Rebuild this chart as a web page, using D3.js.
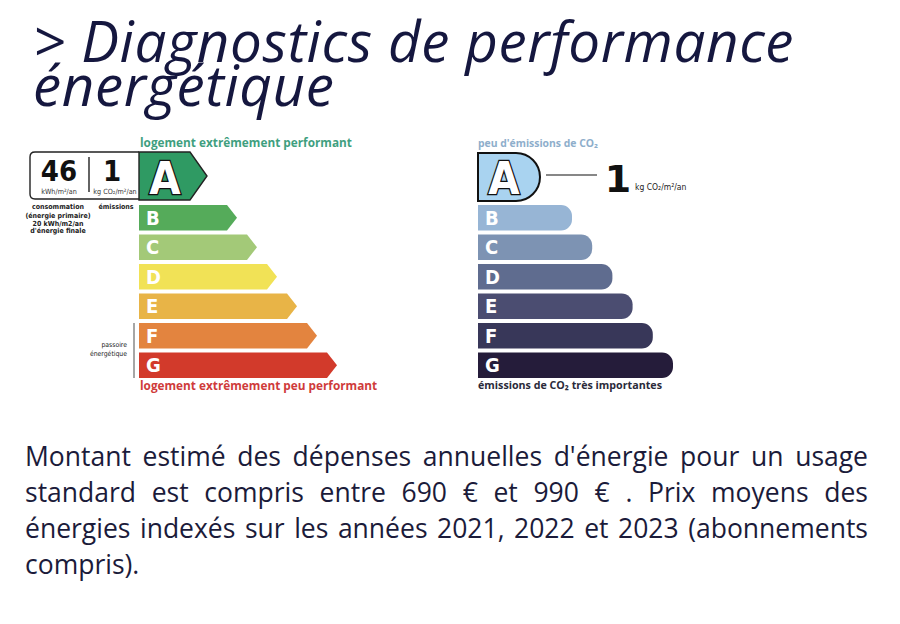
<!DOCTYPE html>
<html>
<head>
<meta charset="utf-8">
<script src="https://cdn.jsdelivr.net/npm/d3@7"></script>
<style>
  body { margin: 0; background: #fff; }
  text { font-family: "Open Sans", sans-serif; }
  .cond { font-family: "DejaVu Sans Condensed", "DejaVu Sans", sans-serif; }
</style>
</head>
<body>
<svg id="chart" width="900" height="624"></svg>
<script>
// data
const classes = ["A", "B", "C", "D", "E", "F", "G"];
const dpeColors = ["#2f9a63", "#55ab5a", "#a3c978", "#f1e256", "#e8b447", "#e3843f", "#d23a2b"];
const gesColors = ["#a9d3f0", "#97b5d5", "#7d93b3", "#5f6c8f", "#4b4d71", "#383759", "#251c3a"];
const dpeClass = "A";
const gesClass = "A";
const consumption = 46;      // kWh/m²/an énergie primaire
const emissions = 1;         // kg CO2/m²/an
const finalEnergy = 20;      // kWh/m2/an énergie finale
const costRange = [690, 990];
const priceYears = [2021, 2022, 2023];
const passoire = ["F", "G"];

const svg = d3.select("#chart");

// title
const title = svg.append("text")
  .attr("x", 33).attr("y", 62)
  .style("font-style", "italic")
  .style("font-size", "56.5px")
  .style("letter-spacing", "0.6px")
  .attr("fill", "#15173f");
title.append("tspan").text("> Diagnostics de performance");
title.append("tspan").attr("x", 33).attr("dy", 44).text("énergétique");

// scales shared by both labels
const rows = classes.slice(1);
const y = d3.scaleBand().domain(rows).range([205, 378]).paddingInner(0.14);
const dpeLen = d3.scaleLinear().domain([1, 6]).range([98, 198]);
const gesLen = d3.scaleLinear().domain([1, 6]).range([94, 195]);

function arrow(w, h, d) {
  return `M0,0H${w - d}L${w},${h / 2}L${w - d},${h}H0Z`;
}
function pill(w, h, r) {
  return `M0,0H${w - r}A${r},${r} 0 0 1 ${w},${r}V${h - r}A${r},${r} 0 0 1 ${w - r},${h}H0Z`;
}

// ---------- DPE (energy) ----------
const dpe = svg.append("g");
const x0 = 139;

dpe.append("text")
  .attr("x", 140).attr("y", 147)
  .style("font-weight", "bold").style("font-size", "11.8px")
  .attr("fill", "#3f9f7f")
  .text("logement extrêmement performant");

// box with the values
dpe.append("path")
  .attr("d", `M${x0},152H35Q30,152 30,157V194Q30,199 35,199H${x0}`)
  .attr("fill", "#fff").attr("stroke", "#222").attr("stroke-width", 1.4);
dpe.append("line")
  .attr("x1", 89).attr("x2", 89).attr("y1", 157).attr("y2", 192)
  .attr("stroke", "#222").attr("stroke-width", 1.4);

dpe.append("text").attr("class", "cond")
  .attr("x", 59).attr("y", 181).attr("text-anchor", "middle")
  .style("font-weight", "bold").style("font-size", "29px").attr("fill", "#111")
  .text(consumption);
dpe.append("text").attr("class", "cond")
  .attr("x", 112).attr("y", 181).attr("text-anchor", "middle")
  .style("font-weight", "bold").style("font-size", "29px").attr("fill", "#111")
  .text(emissions);
dpe.append("text").attr("class", "cond")
  .attr("x", 59).attr("y", 194).attr("text-anchor", "middle")
  .style("font-size", "7.2px").attr("fill", "#333")
  .text("kWh/m²/an");
dpe.append("text").attr("class", "cond")
  .attr("x", 115).attr("y", 194).attr("text-anchor", "middle")
  .style("font-size", "7.2px").attr("fill", "#333")
  .text("kg CO₂/m²/an");

const under = [
  ["consommation", 58, 209],
  ["(énergie primaire)", 58, 217.5],
  [finalEnergy + " kWh/m2/an", 58, 225.5],
  ["d'énergie finale", 58, 232.5],
  ["émissions", 116, 209]
];
dpe.selectAll("text.under").data(under).join("text")
  .attr("class", "under cond")
  .attr("x", d => d[1]).attr("y", d => d[2]).attr("text-anchor", "middle")
  .style("font-weight", "bold").style("font-size", "7px").attr("fill", "#222")
  .text(d => d[0]);

// active class arrow
const dpeIdx = classes.indexOf(dpeClass);
dpe.append("path")
  .attr("transform", `translate(${x0},152)`)
  .attr("d", arrow(68, 48, 17))
  .attr("fill", dpeColors[dpeIdx]).attr("stroke", "#222").attr("stroke-width", 1.4);
dpe.append("text").attr("class", "cond")
  .attr("x", 165).attr("y", 194).attr("text-anchor", "middle")
  .style("font-weight", "bold").style("font-size", "45px")
  .attr("fill", "#fff").attr("stroke", "#111").attr("stroke-width", 2.5)
  .attr("paint-order", "stroke")
  .text(dpeClass);

// other classes
const dpeRows = dpe.selectAll("g.row").data(rows).join("g")
  .attr("class", "row")
  .attr("transform", d => `translate(${x0},${y(d)})`);
dpeRows.append("path")
  .attr("d", d => arrow(dpeLen(classes.indexOf(d)), y.bandwidth(), 10))
  .attr("fill", d => dpeColors[classes.indexOf(d)]);
dpeRows.append("text").attr("class", "cond")
  .attr("x", 7).attr("y", y.bandwidth() / 2 + 7)
  .style("font-weight", "bold").style("font-size", "20px").attr("fill", "#fff")
  .text(d => d);

// passoire énergétique
dpe.append("line")
  .attr("x1", 134).attr("x2", 134)
  .attr("y1", y(passoire[0])).attr("y2", y(passoire[1]) + y.bandwidth())
  .attr("stroke", "#888").attr("stroke-width", 1.5);
dpe.append("text").attr("class", "cond")
  .attr("x", 127).attr("y", 347).attr("text-anchor", "end")
  .style("font-size", "6.8px").attr("fill", "#222").text("passoire");
dpe.append("text").attr("class", "cond")
  .attr("x", 127).attr("y", 356).attr("text-anchor", "end")
  .style("font-size", "6.8px").attr("fill", "#222").text("énergétique");

dpe.append("text")
  .attr("x", 140).attr("y", 390)
  .style("font-weight", "bold").style("font-size", "11.8px")
  .attr("fill", "#cf3b3b")
  .text("logement extrêmement peu performant");

// ---------- GES (emissions) ----------
const ges = svg.append("g");
const x1 = 478;

ges.append("text")
  .attr("x", x1).attr("y", 147)
  .style("font-weight", "bold").style("font-size", "10.4px")
  .attr("fill", "#8eaecb")
  .text("peu d'émissions de CO₂");

const gesIdx = classes.indexOf(gesClass);
ges.append("path")
  .attr("transform", `translate(${x1},153)`)
  .attr("d", pill(62, 48, 24))
  .attr("fill", gesColors[gesIdx]).attr("stroke", "#111").attr("stroke-width", 2);
ges.append("text").attr("class", "cond")
  .attr("x", 504).attr("y", 194).attr("text-anchor", "middle")
  .style("font-weight", "bold").style("font-size", "45px")
  .attr("fill", "#fff").attr("stroke", "#111").attr("stroke-width", 2.5)
  .attr("paint-order", "stroke")
  .text(gesClass);

ges.append("line")
  .attr("x1", 546).attr("x2", 597).attr("y1", 175).attr("y2", 175)
  .attr("stroke", "#111").attr("stroke-width", 1.2);
ges.append("text")
  .attr("x", 618).attr("y", 192).attr("text-anchor", "middle")
  .style("font-family", "'DejaVu Sans', sans-serif")
  .style("font-weight", "bold").style("font-size", "38px").attr("fill", "#111")
  .text(emissions);
ges.append("text").attr("class", "cond")
  .attr("x", 635).attr("y", 190)
  .style("font-size", "8.5px").attr("fill", "#222")
  .text("kg CO₂/m²/an");

const gesRows = ges.selectAll("g.row").data(rows).join("g")
  .attr("class", "row")
  .attr("transform", d => `translate(${x1},${y(d)})`);
gesRows.append("path")
  .attr("d", d => pill(gesLen(classes.indexOf(d)), y.bandwidth(), 11))
  .attr("fill", d => gesColors[classes.indexOf(d)]);
gesRows.append("text").attr("class", "cond")
  .attr("x", 7).attr("y", y.bandwidth() / 2 + 7)
  .style("font-weight", "bold").style("font-size", "20px").attr("fill", "#fff")
  .text(d => d);

ges.append("text")
  .attr("x", x1).attr("y", 389)
  .style("font-weight", "bold").style("font-size", "10.7px")
  .attr("fill", "#2a2a3a")
  .text("émissions de CO₂ très importantes");

// ---------- paragraph (justified) ----------
const lines = [
  "Montant estimé des dépenses annuelles d'énergie pour un usage",
  `standard est compris entre ${costRange[0]} € et ${costRange[1]} € . Prix moyens des`,
  `énergies indexés sur les années ${priceYears[0]}, ${priceYears[1]} et ${priceYears[2]} (abonnements`,
  "compris)."
];
const left = 25, right = 868, lineH = 36;
lines.forEach(function(line, i) {
  const words = line.split(" ");
  const g = svg.append("g");
  const t = g.selectAll("text").data(words).join("text")
    .attr("y", 466 + i * lineH)
    .style("font-size", "26.5px").attr("fill", "#1b1b3a")
    .text(d => d);
  const widths = t.nodes().map(n => n.getComputedTextLength());
  const total = d3.sum(widths);
  const last = i === lines.length - 1;
  const gap = last ? 7 : (right - left - total) / (words.length - 1);
  let x = left;
  t.attr("x", function(d, j) {
    const here = x;
    x += widths[j] + gap;
    return here;
  });
});
</script>
</body>
</html>
